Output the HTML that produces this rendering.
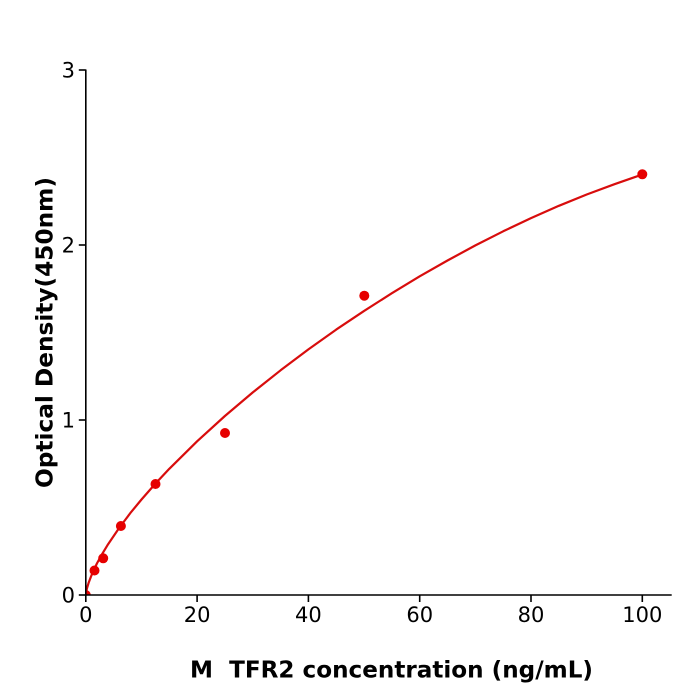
<!DOCTYPE html>
<html>
<head>
<meta charset="utf-8">
<style>
  html, body { margin: 0; padding: 0; background: #ffffff; }
  body { width: 700px; height: 700px; overflow: hidden; }
  svg { display: block; }
  text { font-family: "DejaVu Sans", "Liberation Sans", sans-serif; fill: #000; }
</style>
</head>
<body>
<svg width="700" height="700" viewBox="0 0 700 700" xmlns="http://www.w3.org/2000/svg">
  <defs>
    <clipPath id="plotclip">
      <rect x="85.8" y="40" width="600" height="555"/>
    </clipPath>
  </defs>
  <rect x="0" y="0" width="700" height="700" fill="#ffffff"/>

  <!-- fitted curve -->
  <polyline clip-path="url(#plotclip)" fill="none" stroke="#d80d0d" stroke-width="2.2" stroke-linejoin="round" stroke-linecap="round"
    points="85.8,594.5 86.2,591.5 87.2,587.5 88.6,582.9 91.4,575.5 96.9,563.5 102.5,553.4 108.1,544.2 119.2,527.9 130.3,513.1 141.5,499.5 155.4,483.6 169.3,468.8 197.1,441.3 224.9,416.0 252.8,392.4 280.6,370.3 308.4,349.4 336.2,329.6 364.1,310.9 391.9,293.2 419.7,276.3 447.5,260.5 475.4,245.4 503.2,231.3 531.0,218.1 558.9,205.8 586.7,194.5 614.5,184.2 642.3,174.5"/>

  <!-- data markers -->
  <g fill="#e60000" clip-path="url(#plotclip)">
    <circle cx="85.8" cy="595" r="5"/>
    <circle cx="94.5" cy="570.5" r="5"/>
    <circle cx="103.2" cy="558.3" r="5"/>
    <circle cx="120.9" cy="526" r="5"/>
    <circle cx="155.5" cy="484" r="5"/>
    <circle cx="225" cy="433" r="5"/>
    <circle cx="364.3" cy="295.7" r="5"/>
    <circle cx="642.3" cy="174.3" r="5"/>
  </g>

  <!-- axes spines -->
  <g stroke="#000" stroke-width="1.6" fill="none">
    <line x1="85.8" y1="69.5" x2="85.8" y2="595.8"/>
    <line x1="85" y1="595" x2="671.7" y2="595"/>
    <!-- x ticks -->
    <line x1="85.8" y1="595" x2="85.8" y2="602"/>
    <line x1="197.1" y1="595" x2="197.1" y2="602"/>
    <line x1="308.4" y1="595" x2="308.4" y2="602"/>
    <line x1="419.7" y1="595" x2="419.7" y2="602"/>
    <line x1="531.0" y1="595" x2="531.0" y2="602"/>
    <line x1="642.3" y1="595" x2="642.3" y2="602"/>
    <!-- y ticks -->
    <line x1="78.8" y1="595" x2="85.8" y2="595"/>
    <line x1="78.8" y1="420" x2="85.8" y2="420"/>
    <line x1="78.8" y1="245" x2="85.8" y2="245"/>
    <line x1="78.8" y1="70" x2="85.8" y2="70"/>
  </g>

  <!-- x tick labels -->
  <g font-size="21" text-anchor="middle">
    <text x="85.8" y="622">0</text>
    <text x="197.1" y="622">20</text>
    <text x="308.4" y="622">40</text>
    <text x="419.7" y="622">60</text>
    <text x="531.0" y="622">80</text>
    <text x="642.3" y="622">100</text>
  </g>

  <!-- y tick labels -->
  <g font-size="21" text-anchor="end">
    <text x="75" y="602.5">0</text>
    <text x="75" y="427.5">1</text>
    <text x="75" y="252.5">2</text>
    <text x="75" y="77.5">3</text>
  </g>

  <!-- axis titles -->
  <text x="391.5" y="677.5" font-size="23" font-weight="bold" text-anchor="middle" textLength="403" lengthAdjust="spacingAndGlyphs" xml:space="preserve">M  TFR2 concentration (ng/mL)</text>
  <text transform="translate(52.3,332.5) rotate(-90)" x="0" y="0" font-size="23" font-weight="bold" text-anchor="middle" textLength="311" lengthAdjust="spacingAndGlyphs">Optical Density(450nm)</text>
</svg>
</body>
</html>
